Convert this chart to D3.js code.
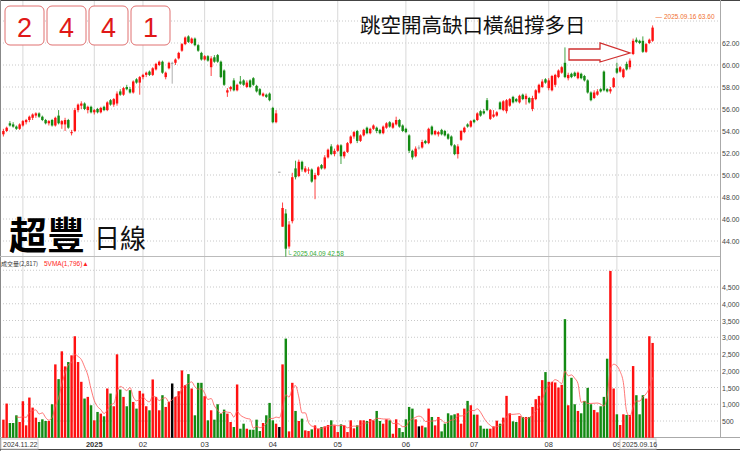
<!DOCTYPE html>
<html>
<head>
<meta charset="utf-8">
<script src="https://cdn.jsdelivr.net/npm/d3@7"></script>
<style>
  body { margin: 0; background: #fff; }
  svg { display: block; }
  text { font-family: "Liberation Sans", Arial, sans-serif; }
  .cjk { font-family: "Noto Sans CJK TC", "Noto Sans CJK SC", sans-serif; }
</style>
</head>
<body>
<div class="canvas"></div>
<script>
// daily candles [open, high, low, close], 2024.11.22 .. 2025.09.16
const bars = [
  [53.7,54.2,53.5,54.0],[54.0,54.4,53.9,54.3],[54.7,54.9,54.4,54.5],[54.6,54.8,54.3,54.4],[54.4,54.5,54.1,54.2],
  [54.2,54.7,54.1,54.6],[54.5,55.0,54.4,54.9],[54.8,55.1,54.6,55.0],[55.0,55.4,54.8,55.3],[55.2,55.6,55.0,55.5],
  [55.4,55.7,55.2,55.6],[55.6,55.7,55.2,55.3],[55.3,55.4,54.9,55.0],[55.0,55.1,54.6,54.7],[54.7,55.0,54.5,54.9],
  [55.0,55.1,54.4,54.5],[54.5,55.3,54.4,55.2],[55.4,55.9,54.6,54.7],[54.6,55.0,54.2,54.9],[54.6,55.2,54.0,55.0],
  [55.0,55.1,54.2,54.3],[53.8,54.1,53.6,53.9],[54.0,56.1,53.9,55.9],[55.9,56.5,55.7,56.4],[56.3,56.7,56.0,56.5],
  [56.5,56.6,55.9,56.0],[55.9,56.3,55.6,56.2],[56.2,56.3,55.6,55.7],[55.7,56.0,55.5,55.9],[56.0,56.1,55.6,55.7],
  [55.7,56.2,55.6,56.1],[56.2,56.3,55.8,55.9],[55.9,56.7,55.8,56.6],[56.8,56.9,56.3,56.4],[56.4,57.0,56.2,56.9],
  [56.5,57.6,56.3,57.4],[57.6,57.8,57.2,57.3],[57.3,58.0,57.2,57.9],[58.0,58.2,57.7,57.8],[57.8,58.0,57.4,57.5],
  [57.5,58.6,57.4,58.5],[58.7,58.8,58.3,58.4],[58.4,59.0,57.3,58.9],[58.9,59.2,58.7,59.1],[59.1,59.4,58.9,59.3],
  [59.4,59.5,59.0,59.1],[59.1,59.8,59.0,59.7],[59.6,60.2,59.5,60.1],[60.0,60.4,59.9,60.3],[60.3,60.4,59.2,59.3],
  [58.9,59.4,58.7,59.3],[59.7,60.3,59.6,60.2],[60.2,60.3,58.3,60.2],[60.2,60.6,60.0,60.5],[60.6,61.2,60.5,61.1],
  [61.3,62.0,61.2,61.9],[61.9,62.6,61.8,62.5],[62.6,62.7,62.0,62.1],[62.0,62.5,61.9,62.4],[62.4,62.5,61.7,61.8],
  [61.8,61.9,61.2,61.3],[61.1,61.2,60.4,60.5],[60.5,60.9,60.4,60.8],[60.8,60.9,60.3,60.4],[59.8,60.8,59.0,60.6],
  [60.7,60.9,60.2,60.3],[60.9,61.0,60.2,60.3],[60.3,60.4,58.8,58.9],[59.5,59.6,58.1,58.2],[57.5,57.9,57.1,57.7],
  [57.8,58.1,57.6,58.0],[58.6,58.8,57.6,57.7],[57.7,58.3,57.6,58.2],[58.5,59.0,58.2,58.3],[58.6,58.7,58.1,58.2],
  [58.0,58.6,57.9,58.4],[58.6,58.7,57.9,58.0],[58.8,58.9,58.1,58.2],[58.1,58.2,57.5,57.6],[57.8,57.9,57.2,57.3],
  [57.2,57.5,57.1,57.4],[57.3,57.4,57.0,57.1],[57.4,57.5,56.7,56.8],[56.1,56.2,54.7,54.8],[54.8,55.9,54.7,55.6],
  [50.3,50.3,50.3,50.3],[45.3,47.5,45.3,47.0],[46.5,46.9,42.58,43.3],[43.5,45.8,43.3,45.5],[45.8,50.2,45.6,49.8],
  [50.6,51.3,49.6,49.8],[49.9,51.4,49.8,51.2],[51.2,51.3,50.3,50.5],[50.3,50.8,50.2,50.6],[50.4,50.7,50.1,50.5],
  [50.5,50.6,49.3,49.4],[49.6,50.2,47.8,50.0],[50.0,50.8,49.9,50.7],[50.9,51.0,50.5,50.6],[50.6,51.8,50.5,51.6],
  [51.6,52.4,51.5,52.3],[52.6,52.8,51.8,51.9],[51.9,52.4,51.7,52.2],[52.2,52.8,52.1,52.7],[52.7,52.8,51.0,51.7],
  [51.7,52.2,51.5,52.1],[52.1,53.0,52.0,52.9],[52.9,53.6,52.8,53.5],[53.5,54.0,53.3,53.9],[54.0,54.1,52.9,53.1],
  [53.1,53.7,53.0,53.6],[53.6,54.2,53.5,54.1],[54.3,54.4,53.7,53.8],[53.8,54.3,53.7,54.2],[54.2,54.6,54.1,54.5],
  [54.3,54.4,53.8,54.0],[54.1,54.2,53.7,53.8],[53.8,54.5,53.7,54.4],[54.3,54.8,54.2,54.7],[54.8,54.9,54.3,54.4],
  [54.3,54.8,54.2,54.7],[54.6,55.3,54.5,55.0],[55.0,55.1,54.3,54.4],[54.5,54.6,53.9,54.0],[54.2,54.3,53.8,53.9],
  [53.6,53.7,52.0,52.2],[52.2,52.3,51.4,51.6],[51.7,52.6,51.6,52.4],[52.5,52.7,52.3,52.5],[52.5,53.2,52.4,53.0],
  [53.1,53.2,52.8,52.9],[52.9,54.3,52.8,54.2],[54.4,54.5,53.6,53.7],[53.7,54.1,53.6,54.0],[53.7,54.0,53.5,53.9],
  [54.1,54.2,53.6,53.7],[54.0,54.1,53.5,53.6],[53.7,53.8,53.2,53.3],[53.5,53.6,52.6,52.7],[52.7,52.8,51.8,51.9],
  [51.9,52.8,51.5,52.6],[53.2,54.1,53.1,54.0],[53.9,54.4,53.8,54.3],[54.6,54.7,54.3,54.4],[54.4,55.0,54.3,54.9],
  [55.0,55.1,54.7,54.8],[55.0,55.7,54.9,55.6],[55.8,55.9,55.3,55.4],[55.8,56.0,55.5,55.6],[56.8,57.0,55.8,55.9],
  [55.1,56.0,55.0,55.9],[55.3,55.9,55.2,55.5],[55.4,55.8,55.3,55.7],[56.6,56.7,55.9,56.0],[55.9,56.8,55.8,56.7],
  [55.8,56.9,55.6,56.8],[56.3,57.0,56.2,56.9],[57.1,57.2,56.5,56.6],[56.9,57.0,56.6,56.7],[56.6,57.3,56.5,57.2],
  [57.3,57.4,56.8,56.9],[56.9,57.4,56.4,57.2],[57.0,57.1,56.5,56.6],[56.0,57.2,55.8,57.0],[56.9,57.8,56.8,57.7],
  [57.5,58.3,57.4,58.2],[58.0,58.7,57.9,58.5],[58.7,58.8,58.3,58.4],[57.9,58.8,57.7,58.6],[57.7,59.1,57.6,59.0],
  [58.2,59.2,58.0,59.1],[58.9,59.6,58.8,59.5],[59.3,59.9,59.2,59.8],[60.2,61.6,58.8,58.9],[58.8,59.3,58.6,59.1],
  [59.2,59.3,58.8,58.9],[59.3,59.4,58.9,59.0],[58.8,59.4,58.7,59.3],[59.2,59.3,58.7,58.8],[59.0,59.1,58.5,58.6],
  [58.6,58.7,57.4,57.5],[57.5,57.6,56.7,56.8],[57.0,57.7,56.9,57.5],[57.3,57.8,57.2,57.6],[57.8,57.9,57.5,57.6],
  [59.4,59.5,57.6,57.7],[57.8,57.9,57.5,57.6],[57.6,58.0,57.4,57.8],[58.0,58.9,57.9,58.8],[59.7,60.2,59.2,59.3],
  [59.4,59.9,59.3,59.8],[58.9,59.7,58.8,59.6],[60.1,60.3,59.5,59.6],[59.8,60.6,59.6,60.4],[61.0,62.4,60.9,62.2],
  [62.3,62.5,62.0,62.1],[62.2,62.3,61.9,62.0],[62.2,62.6,61.1,61.2],[61.2,62.0,61.1,61.9],[62.0,62.4,61.9,62.3],
  [62.2,63.6,62.1,63.4]
];

// volume (lots)
const volumes = [
  540,1020,440,440,670,470,1090,370,1200,900,
  600,470,550,500,500,1000,2190,1750,2580,2130,
  2260,2460,3030,2260,1670,1170,1220,970,520,770,
  720,640,1470,1320,940,2490,1440,1220,940,1420,
  1070,870,1400,1320,940,820,1740,1220,820,1270,
  920,1070,1620,1220,1390,2010,1570,1900,1470,670,
  1640,1640,1240,520,820,540,1000,720,840,720,
  470,320,1590,270,420,270,240,240,540,200,
  440,670,1040,520,420,320,2190,2960,190,1640,
  800,500,570,220,200,250,370,270,320,340,
  380,520,370,170,400,370,170,520,280,370,
  520,520,500,560,520,
  800,500,420,550,520,120,550,290,170,550,
  920,870,550,340,360,310,870,620,370,620,
  190,420,730,670,700,730,420,870,1100,970,
  690,690,360,270,270,270,340,510,420,600,
  1250,730,490,470,650,620,620,620,920,1150,
  1250,1720,1960,1670,1670,1650,1500,1580,3540,970,
  1790,1000,800,730,1100,1490,1000,830,760,940,
  1220,2360,4980,1470,700,380,700,680,680,2140,
  1270,700,1270,1170,3030,2830
];

const monthTicks = [[6, ''], [28, '2025'], [43, '02'], [62, '03'], [83, '04'], [103, '05'], [124, '06'], [145, '07'], [168, '08'], [189, '09']];
const priceTicks = [44, 46, 48, 50, 52, 54, 56, 58, 60, 62];
const volumeTicks = [500, 1000, 1500, 2000, 2500, 3000, 3500, 4000, 4500];
const stockCode = ['2', '4', '4', '1'];

const W = 740, H = 451, plotRight = 720;
const UP = '#ff1010', DOWN = '#138a13';

const svg = d3.select('.canvas').append('svg').attr('width', W).attr('height', H);

const x = d3.scaleBand().domain(d3.range(bars.length)).range([1.375, 1.375 + 3.25 * bars.length]).padding(0.25);
const xc = i => x(i) + x.bandwidth() / 2;
const yPrice = d3.scaleLinear().domain([44, 62]).range([241, 43]);
const yVol = d3.scaleLinear().domain([500, 4500]).range([421, 287]);

const colorOf = d => d[3] > d[0] ? UP : d[3] < d[0] ? DOWN : '#999';

// grid
const grid = svg.append('g');
grid.selectAll('.hp').data(priceTicks.concat([64])).enter().append('line')
  .attr('x1', 0).attr('x2', plotRight).attr('y1', d => yPrice(d)).attr('y2', d => yPrice(d))
  .attr('stroke', '#c8c8c8').attr('stroke-dasharray', '1,2');
grid.selectAll('.hv').data(volumeTicks.concat([5000])).enter().append('line')
  .attr('x1', 0).attr('x2', plotRight).attr('y1', d => yVol(d)).attr('y2', d => yVol(d))
  .attr('stroke', '#c8c8c8').attr('stroke-dasharray', '1,2');
grid.selectAll('.vm').data(monthTicks).enter().append('line')
  .attr('x1', d => xc(d[0])).attr('x2', d => xc(d[0])).attr('y1', 0).attr('y2', 438)
  .attr('stroke', '#d8d8d8');

// frame
svg.append('line').attr('x1', 0).attr('x2', W).attr('y1', 0.5).attr('y2', 0.5).attr('stroke', '#444');
svg.append('line').attr('x1', 0.5).attr('x2', 0.5).attr('y1', 0).attr('y2', 451).attr('stroke', '#888');
svg.append('line').attr('x1', plotRight + 0.5).attr('x2', plotRight + 0.5).attr('y1', 0).attr('y2', 438).attr('stroke', '#aaa');
svg.append('line').attr('x1', 0).attr('x2', plotRight).attr('y1', 256.5).attr('y2', 256.5).attr('stroke', '#bbb');
svg.append('line').attr('x1', 0).attr('x2', W).attr('y1', 437.5).attr('y2', 437.5).attr('stroke', '#aaa');
svg.append('line').attr('x1', 0).attr('x2', W).attr('y1', 449.5).attr('y2', 449.5).attr('stroke', '#444');

// candles
const candles = svg.append('g');
candles.selectAll('line').data(bars).enter().append('line')
  .attr('x1', (d, i) => xc(i)).attr('x2', (d, i) => xc(i))
  .attr('y1', d => yPrice(d[1])).attr('y2', d => yPrice(d[2]))
  .attr('stroke', colorOf).attr('stroke-width', 0.8);
candles.selectAll('rect').data(bars).enter().append('rect')
  .attr('x', (d, i) => x(i)).attr('width', x.bandwidth())
  .attr('y', d => yPrice(Math.max(d[0], d[3])))
  .attr('height', d => Math.max(1, Math.abs(yPrice(d[0]) - yPrice(d[3]))))
  .attr('fill', colorOf);

// volume bars
svg.append('g').selectAll('rect').data(volumes).enter().append('rect')
  .attr('x', (d, i) => x(i)).attr('width', x.bandwidth())
  .attr('y', d => yVol(d)).attr('height', d => yVol(0) - yVol(d))
  .attr('fill', (d, i) => colorOf(bars[i]) === '#999' ? '#000' : colorOf(bars[i]));

// 5-day volume moving average
const vma = volumes.map((v, i) => i < 4 ? null : d3.mean(volumes.slice(i - 4, i + 1)));
svg.append('path')
  .datum(vma.map((v, i) => [i, v]).filter(d => d[1] !== null))
  .attr('d', d3.line().curve(d3.curveMonotoneX).x(d => xc(d[0])).y(d => yVol(d[1])))
  .attr('fill', 'none').attr('stroke', '#f55').attr('stroke-width', 0.8);

// right axes
svg.selectAll('.pl').data(priceTicks).enter().append('text')
  .attr('x', 722).attr('y', d => yPrice(d) + 3).attr('font-size', 7).attr('fill', '#444')
  .text(d => d3.format('.2f')(d));
svg.selectAll('.vl').data(volumeTicks).enter().append('text')
  .attr('x', 722).attr('y', d => yVol(d) + 3).attr('font-size', 7).attr('fill', '#444')
  .text(d => d3.format(',')(d));

// month labels
svg.selectAll('.ml').data(monthTicks.filter(d => d[1] && d[1] !== '09')).enter().append('text')
  .attr('x', d => xc(d[0])).attr('y', 447).attr('text-anchor', 'middle')
  .attr('font-size', 7.5).attr('fill', '#333').attr('font-weight', d => d[1] === '2025' ? 'bold' : 'normal')
  .text(d => d[1]);
svg.append('rect').attr('x', 1).attr('y', 439).attr('width', 37).attr('height', 10).attr('fill', '#fff').attr('stroke', '#ccc');
svg.append('text').attr('x', 3).attr('y', 447).attr('font-size', 7).attr('fill', '#333').text('2024.11.22');
svg.append('text').attr('x', xc(189)).attr('y', 447).attr('text-anchor', 'middle').attr('font-size', 7.5).attr('fill', '#333').text('09');
svg.append('rect').attr('x', 620).attr('y', 439).attr('width', 36).attr('height', 10).attr('fill', '#fff').attr('stroke', '#ccc');
svg.append('text').attr('x', 622).attr('y', 447).attr('font-size', 7).attr('fill', '#333').text('2025.09.16');

// volume legend
svg.append('text').attr('class', 'cjk').attr('x', 1).attr('y', 266).attr('font-size', 6).attr('fill', '#333').text('成交量(2,817)');
svg.append('text').attr('x', 44).attr('y', 266).attr('font-size', 6.5).attr('fill', '#f22').text('5VMA(1,796)▲');

// high / low markers
const last = bars.length - 1;
svg.append('text').attr('x', xc(last) + 3).attr('y', yPrice(bars[last][1]) - 6).attr('font-size', 6.5).attr('fill', '#f07030')
  .text('— 2025.09.16  63.60');
svg.append('text').attr('x', xc(87) + 1).attr('y', 256).attr('font-size', 6.5).attr('fill', '#3a3')
  .text('└ 2025.04.09  42.58');

// stock code boxes
stockCode.forEach((c, i) => {
  const bx = 5 + i * 42;
  svg.append('rect').attr('x', bx).attr('y', 6).attr('width', 39).attr('height', 39).attr('rx', 5)
    .attr('fill', '#fff').attr('stroke', '#e07070');
  svg.append('text').attr('x', bx + 19.5).attr('y', 37).attr('text-anchor', 'middle')
    .attr('font-size', 27).attr('fill', '#e01818').text(c);
});

// titles
svg.append('text').attr('class', 'cjk').attr('x', 9).attr('y', 249).attr('font-size', 38).attr('font-weight', 'bold').attr('fill', '#000').text('超豐');
svg.append('text').attr('class', 'cjk').attr('x', 94).attr('y', 248).attr('font-size', 26).attr('fill', '#111').text('日線');
svg.append('text').attr('class', 'cjk').attr('x', 360).attr('y', 33).attr('font-size', 20.5).attr('fill', '#111').text('跳空開高缺口橫組撐多日');

// arrow
svg.append('polygon')
  .attr('points', '569,49 600,49 600,43 630,53 600,62 600,60 569,60')
  .attr('fill', '#fff').attr('stroke', '#d03030').attr('stroke-width', 1.3);
</script>
</body>
</html>
